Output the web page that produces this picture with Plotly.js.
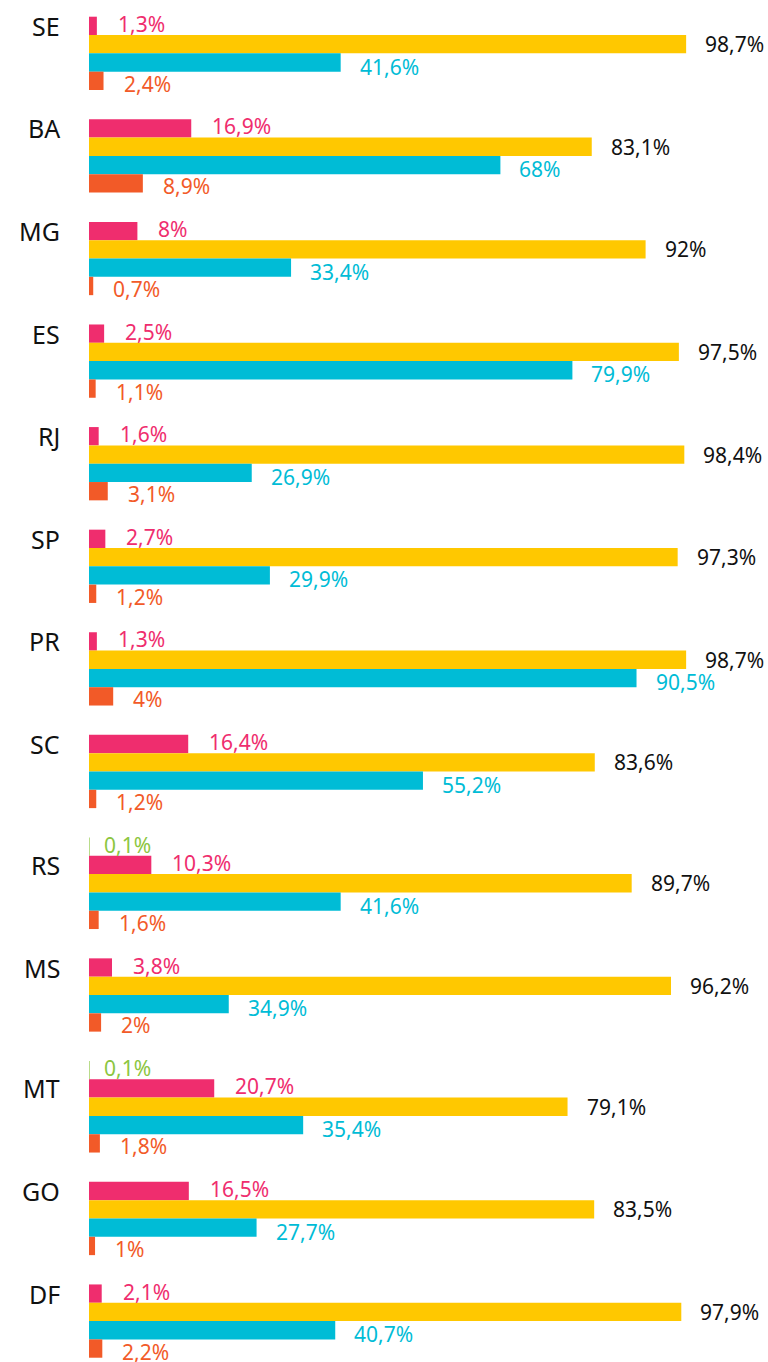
<!DOCTYPE html>
<html>
<head>
<meta charset="utf-8">
<script src="https://cdn.plot.ly/plotly-3.0.1.min.js"></script>
<style>
  html, body { margin: 0; padding: 0; background: #fff; }
  #chart { width: 768px; height: 1362px; }
</style>
</head>
<body>
<div id="chart"></div>
<script>
// ---- data ----
const states = ["SE", "BA", "MG", "ES", "RJ", "SP", "PR", "SC", "RS", "MS", "MT", "GO", "DF"];
const greenValues  = [null, null, null, null, null, null, null, null, 0.1, null, 0.1, null, null];
const pinkValues   = [1.3, 16.9, 8, 2.5, 1.6, 2.7, 1.3, 16.4, 10.3, 3.8, 20.7, 16.5, 2.1];
const yellowValues = [98.7, 83.1, 92, 97.5, 98.4, 97.3, 98.7, 83.6, 89.7, 96.2, 79.1, 83.5, 97.9];
// bar lengths as drawn in the picture (MS bar is drawn shorter than its printed label)
const cyanValues   = [41.6, 68, 33.4, 79.9, 26.9, 29.9, 90.5, 55.2, 41.6, 23.1, 35.4, 27.7, 40.7];
// printed labels of the cyan series
const cyanLabels   = [41.6, 68, 33.4, 79.9, 26.9, 29.9, 90.5, 55.2, 41.6, 34.9, 35.4, 27.7, 40.7];
const orangeValues = [2.4, 8.9, 0.7, 1.1, 3.1, 1.2, 4, 1.2, 1.6, 2, 1.8, 1, 2.2];

// ---- styles ----
const FONT = "Noto Sans, Open Sans, sans-serif";
const series = [
  { values: greenValues,  labels: greenValues,  color: "#8CC63F", text: "#8CC63F", xshift: 12, yshift: 2 },
  { values: pinkValues,   labels: pinkValues,   color: "#EF2D6E", text: "#EF2D6E", xshift: 19, yshift: 2 },
  { values: yellowValues, labels: yellowValues, color: "#FFC800", text: "#111111", xshift: 17, yshift: 0 },
  { values: cyanValues,   labels: cyanLabels,   color: "#00BCD6", text: "#00BCD6", xshift: 17, yshift: -4 },
  { values: orangeValues, labels: orangeValues, color: "#F25A28", text: "#F25A28", xshift: 18, yshift: -3 }
];
const GAP = 1.6;

// row positions (only present series get a row)
const pos = series.map(() => []);
const labelY = [];
let cursor = 0;
states.forEach((st, i) => {
  series.forEach((s, k) => {
    if (s.values[i] !== null) {
      pos[k][i] = cursor + 0.5;
      cursor += 1;
    } else {
      pos[k][i] = null;
    }
  });
  labelY.push(pos[1][i]);
  cursor += GAP;
});

const fmt = v => String(v).replace(".", ",") + "%";

const traces = series.map((s, k) => {
  const xs = [], ys = [];
  s.values.forEach((v, i) => { if (v !== null) { xs.push(v); ys.push(pos[k][i]); } });
  return {
    type: "bar", orientation: "h", x: xs, y: ys, width: 1,
    marker: { color: s.color, line: { width: 0 } },
    hoverinfo: "skip", showlegend: false
  };
});

const annotations = [];
series.forEach((s, k) => {
  s.values.forEach((v, i) => {
    if (v === null) return;
    annotations.push({
      x: v, y: pos[k][i], xref: "x", yref: "y",
      text: fmt(s.labels[i]), showarrow: false, xanchor: "left", yanchor: "middle",
      xshift: s.xshift, yshift: s.yshift,
      font: { family: FONT, size: 21, color: s.text }
    });
  });
});
states.forEach((st, i) => {
  annotations.push({
    x: 0, y: labelY[i], xref: "paper", yref: "y",
    text: st, showarrow: false, xanchor: "right", yanchor: "middle",
    xshift: -27, yshift: 0,
    font: { family: FONT, size: 25, color: "#111111" }
  });
});

const unitPx = 18.32;
const topPx = 16.7;
const layout = {
  width: 768, height: 1362,
  margin: { l: 89, r: 0, t: 0, b: 0 },
  paper_bgcolor: "#ffffff", plot_bgcolor: "#ffffff",
  barmode: "overlay",
  xaxis: { range: [0, 679 / 6.05], visible: false, fixedrange: true },
  yaxis: { range: [(1362 - topPx) / unitPx, -topPx / unitPx], visible: false, fixedrange: true },
  annotations: annotations,
  font: { family: FONT }
};

Plotly.newPlot("chart", traces, layout, { displayModeBar: false, staticPlot: true });
</script>
</body>
</html>
